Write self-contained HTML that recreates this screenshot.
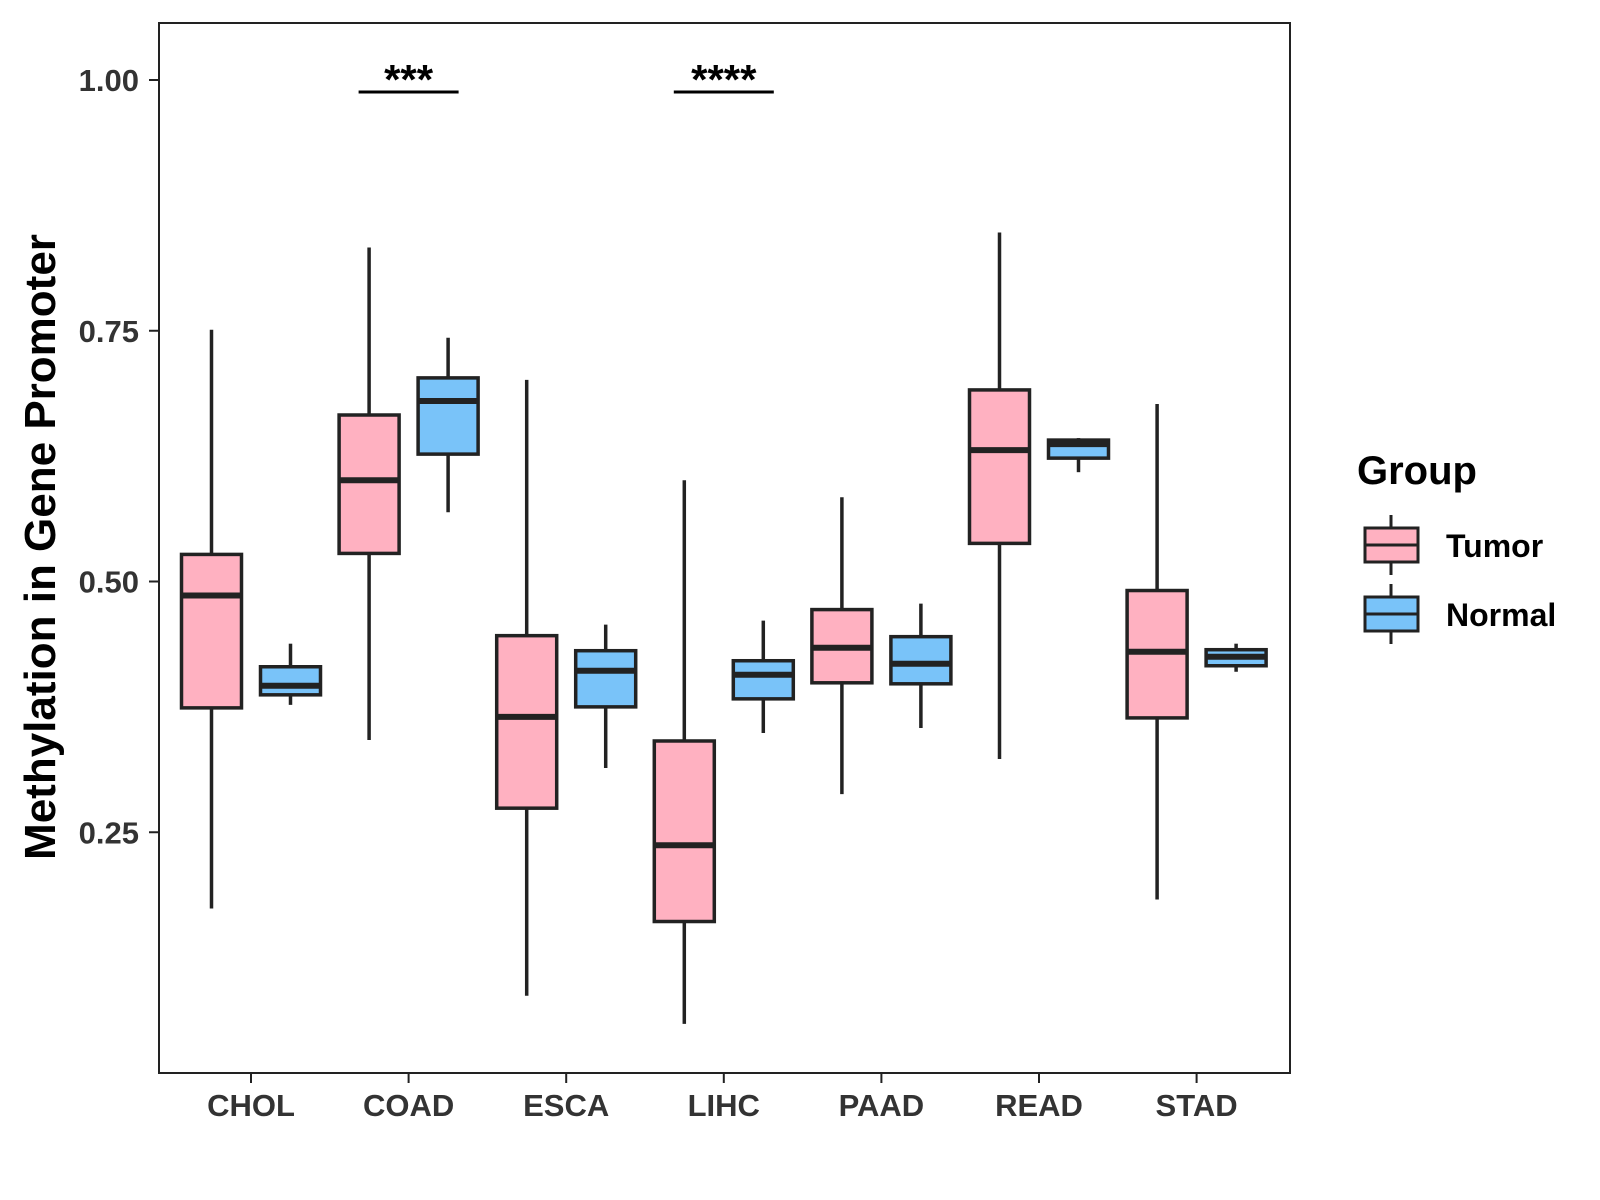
<!DOCTYPE html>
<html><head><meta charset="utf-8"><style>
html,body{margin:0;padding:0;background:#fff;}
svg{display:block;font-family:"Liberation Sans",Arial,sans-serif;}
</style></head><body>
<svg id="chart" width="1600" height="1200" viewBox="0 0 1600 1200" xmlns="http://www.w3.org/2000/svg">
<rect x="0" y="0" width="1600" height="1200" fill="#fff"/>
<g id="marks"></g>
<g id="axes"></g>
<rect x="159" y="23" width="1131" height="1050" fill="none" stroke="#222" stroke-width="2"/>
<text x="0" y="0" transform="translate(55,547) rotate(-90)" text-anchor="middle" font-size="44" font-weight="bold" fill="#000">Methylation in Gene Promoter</text>
<g>
<text x="1357" y="484" font-size="40" font-weight="bold" fill="#000">Group</text>
<g>
<line x1="1391" y1="515" x2="1391" y2="575" stroke="#222" stroke-width="3"/>
<rect x="1365" y="528" width="53" height="34" fill="#FFB1C1" stroke="#222" stroke-width="3"/>
<line x1="1365" y1="545" x2="1418" y2="545" stroke="#222" stroke-width="3"/>
<text x="1446" y="557" font-size="32" font-weight="bold" fill="#000">Tumor</text>
</g>
<g>
<line x1="1391" y1="584" x2="1391" y2="644" stroke="#222" stroke-width="3"/>
<rect x="1365" y="597" width="53" height="34" fill="#79C3F9" stroke="#222" stroke-width="3"/>
<line x1="1365" y1="614" x2="1418" y2="614" stroke="#222" stroke-width="3"/>
<text x="1446" y="626" font-size="32" font-weight="bold" fill="#000">Normal</text>
</g>
</g>
</svg>
<script>
const categories = ["CHOL","COAD","ESCA","LIHC","PAAD","READ","STAD"];
// [min, q1, median, q3, max]
const tumorStats = [
  [0.174,0.374,0.486,0.527,0.751],
  [0.342,0.528,0.601,0.666,0.833],
  [0.087,0.274,0.365,0.446,0.701],
  [0.059,0.161,0.237,0.341,0.601],
  [0.288,0.399,0.434,0.472,0.584],
  [0.323,0.538,0.631,0.691,0.848],
  [0.183,0.364,0.430,0.491,0.677]
];
const normalStats = [
  [0.377,0.387,0.396,0.415,0.438],
  [0.569,0.627,0.680,0.703,0.743],
  [0.314,0.375,0.411,0.431,0.457],
  [0.349,0.383,0.407,0.421,0.461],
  [0.354,0.398,0.418,0.445,0.478],
  [0.609,0.623,0.637,0.641,0.643],
  [0.410,0.416,0.425,0.432,0.438]
];
const yTicks = [0.25,0.50,0.75,1.00];
const yTickLabels = ["0.25","0.50","0.75","1.00"];
const sigCategories = ["COAD","LIHC"];
const sigLabels = ["***","****"];
const sigLevel = 0.988;

const NS="http://www.w3.org/2000/svg";
const yScale = v => 80 + (1 - v) * 1003;
const xScale = i => 251 + i * 157.6;
const BOX_W = 60, OFF = 39.5;
const marks = document.getElementById('marks');
const axes = document.getElementById('axes');
function mk(tag, attrs, parent){
  const e = document.createElementNS(NS, tag);
  for (const k in attrs) e.setAttribute(k, attrs[k]);
  parent.appendChild(e); return e;
}
function drawBox(cx, s, fill, name){
  const g = mk('g', {}, marks);
  
  
  mk('line',{x1:cx,x2:cx,y1:yScale(s[4]),y2:yScale(s[0]),stroke:'#222','stroke-width':3.5},g);
  const top=yScale(s[3]), bot=yScale(s[1]);
  mk('rect',{x:cx-BOX_W/2,y:top,width:BOX_W,height:Math.max(bot-top,1),fill:fill,stroke:'#222','stroke-width':3.5},g);
  mk('line',{x1:cx-BOX_W/2,x2:cx+BOX_W/2,y1:yScale(s[2]),y2:yScale(s[2]),stroke:'#222','stroke-width':6},g);
}
categories.forEach((c,i)=>{
  drawBox(xScale(i)-OFF, tumorStats[i], '#FFB1C1', 'box-tumor-'+c.toLowerCase());
  drawBox(xScale(i)+OFF, normalStats[i], '#79C3F9', 'box-normal-'+c.toLowerCase());
  const t = mk('line',{x1:xScale(i),x2:xScale(i),y1:1073,y2:1083,stroke:'#222','stroke-width':2},axes);
  
  
  const lb = mk('text',{x:xScale(i),y:1116,'text-anchor':'middle','font-size':31,'font-weight':'bold',fill:'#333'},axes);
  lb.textContent = c;
  
  
});
yTicks.forEach((v,i)=>{
  const t = mk('line',{x1:149,x2:159,y1:yScale(v),y2:yScale(v),stroke:'#222','stroke-width':2},axes);
  
  
  const lb = mk('text',{x:139,y:yScale(v)+11,'text-anchor':'end','font-size':31,'font-weight':'bold',fill:'#333'},axes);
  lb.textContent = yTickLabels[i];
  
  
});
sigCategories.forEach((c,k)=>{
  const i = categories.indexOf(c);
  const g = mk('g',{},marks);
  
  
  const y = yScale(sigLevel);
  mk('line',{x1:xScale(i)-50,x2:xScale(i)+50,y1:y,y2:y,stroke:'#000','stroke-width':3},g);
  const tx = mk('text',{x:xScale(i),y:y+2,'text-anchor':'middle','font-size':42,'font-weight':'bold',fill:'#000'},g);
  tx.textContent = sigLabels[k];
});
</script>
</body></html>
